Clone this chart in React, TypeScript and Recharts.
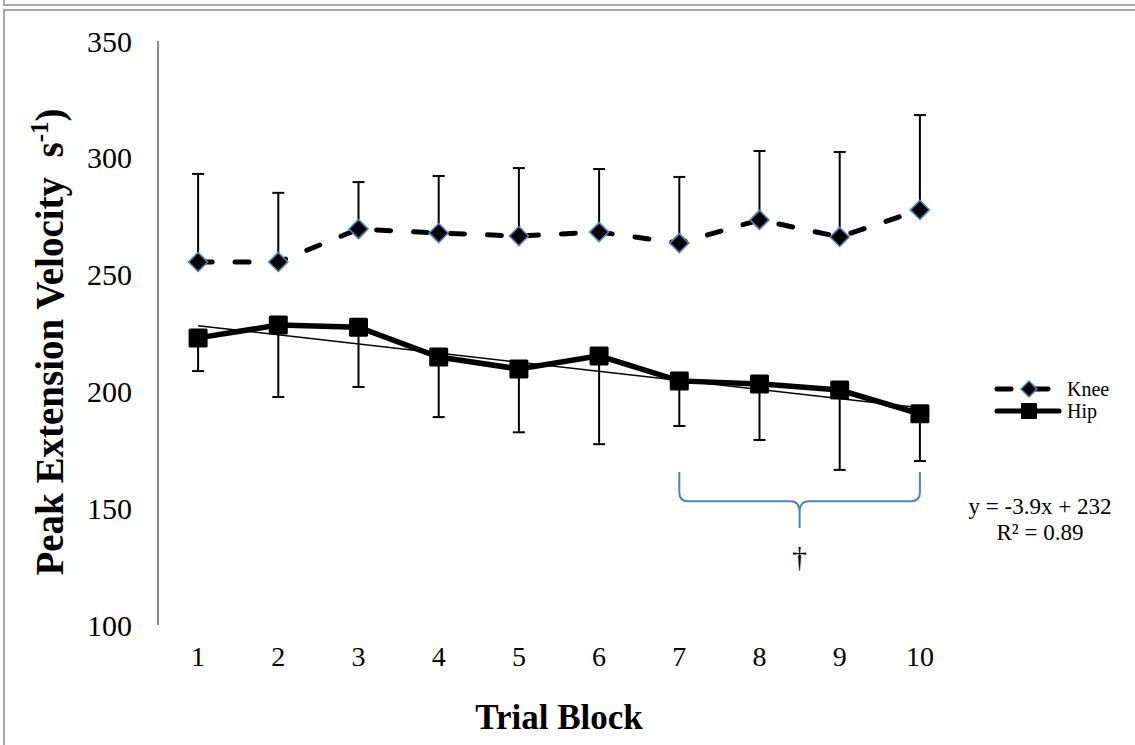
import React from "react";
import {
  LineChart,
  Line,
  XAxis,
  YAxis,
  ErrorBar,
  ReferenceArea,
} from "recharts";

const trialBlocks = [1, 2, 3, 4, 5, 6, 7, 8, 9, 10];
const kneeMean = [255.4, 255.4, 269.5, 267.8, 266.5, 268.2, 263.5, 273.4, 266.1, 277.7];
const kneeSD = [37.7, 29.6, 20.1, 24.4, 29.1, 27.0, 28.3, 29.5, 36.4, 40.6];
const hipMean = [222.9, 228.4, 227.5, 214.7, 209.6, 215.2, 204.5, 203.2, 200.6, 190.4];
const hipSD = [14.2, 30.8, 25.6, 25.7, 27.1, 37.8, 19.3, 24.0, 34.2, 20.2];
// regression line for Hip, only the end points are drawn
const hipTrend = [228.1, null, null, null, null, null, null, null, null, 193.0];
const yTicks = [100, 150, 200, 250, 300, 350];

const data = trialBlocks.map((b, i) => ({
  block: b,
  knee: kneeMean[i],
  kneeErr: [0, kneeSD[i]],
  hip: hipMean[i],
  hipErr: [hipSD[i], 0],
  trend: hipTrend[i],
}));

const FONT = '"Liberation Serif", "Times New Roman", serif';
const BLUE = "#4f81bd";

const Diamond = (props: any) => {
  const { cx, cy, index } = props;
  if (cx == null || cy == null) return <g key={`k-${index}`} />;
  const r = 9.5;
  return (
    <polygon
      key={`k-${index}`}
      points={`${cx},${cy - r} ${cx + r},${cy} ${cx},${cy + r} ${cx - r},${cy}`}
      fill="#000"
      stroke={BLUE}
      strokeWidth={1.6}
    />
  );
};

const Square = (props: any) => {
  const { cx, cy, index } = props;
  if (cx == null || cy == null) return <g key={`h-${index}`} />;
  const s = 19;
  return <rect key={`h-${index}`} x={cx - s / 2} y={cy - s / 2} width={s} height={s} rx={1.5} fill="#000" />;
};

// blue curly brace under blocks 7-10 with the dagger below it
const Brace = (props: any) => {
  const { x, y, width, height } = props;
  if (x == null) return <g />;
  const x0 = x;
  const x1 = x + width;
  const cx = (x0 + x1) / 2;
  const top = y;
  const mid = y + height * 0.52;
  const bot = y + height;
  const d = [
    `M${x0},${top} L${x0},${mid - 9} Q${x0},${mid} ${x0 + 9},${mid}`,
    `L${cx - 9},${mid} Q${cx},${mid} ${cx},${mid + 11} L${cx},${bot}`,
    `M${cx},${mid + 11} Q${cx},${mid} ${cx + 9},${mid}`,
    `L${x1 - 9},${mid} Q${x1},${mid} ${x1},${mid - 9} L${x1},${top}`,
  ].join(" ");
  return (
    <g>
      <path d={d} fill="none" stroke={BLUE} strokeWidth={2} />
      <text x={cx} y={bot + 39} textAnchor="middle" fontFamily={FONT} fontSize={30} fill="#000">
        †
      </text>
    </g>
  );
};

const YLabel = () => (
  <text
    x={0}
    y={0}
    transform="translate(63, 342) rotate(-90)"
    textAnchor="middle"
    fontFamily={FONT}
    fontWeight="bold"
    fontSize={39}
    fill="#000"
  >
    Peak Extension Velocity{"\u00a0\u00a0"}s
    <tspan dy={-15} fontSize={25}>-1</tspan>
    <tspan dy={15}>)</tspan>
  </text>
);

export default function App() {
  return (
    <div
      style={{
        position: "absolute",
        left: 0,
        top: 0,
        width: 1135,
        height: 745,
        background: "#fff",
        overflow: "hidden",
      }}
    >
      <div
        style={{
          position: "absolute",
          left: 3,
          top: -20,
          width: 1200,
          height: 22,
          border: "2px solid #a6a6a6",
        }}
      />
      <div
        style={{
          position: "absolute",
          left: 3,
          top: 9,
          width: 1200,
          height: 800,
          border: "2px solid #a6a6a6",
        }}
      />
      <div style={{ position: "absolute", left: 0, top: 0 }}>
        <LineChart
          width={1135}
          height={745}
          data={data}
          margin={{ top: 41, right: 175, bottom: 80, left: 98 }}
        >
          <XAxis
            type="number"
            dataKey="block"
            domain={[0.5, 10.5]}
            ticks={trialBlocks}
            axisLine={false}
            tickLine={false}
            tickSize={0}
            tickMargin={21}
            height={40}
            tick={{ fontFamily: FONT, fontSize: 28, fill: "#000" }}
            label={{
              value: "Trial Block",
              position: "insideBottom",
              offset: -64,
              fontFamily: FONT,
              fontWeight: "bold",
              fontSize: 35,
              fill: "#000",
            }}
          />
          <YAxis
            type="number"
            domain={[100, 350]}
            ticks={yTicks}
            width={60}
            axisLine={{ stroke: "#8c8c8c", strokeWidth: 2 }}
            tickLine={false}
            tickSize={0}
            tickMargin={26}
            tick={{ fontFamily: FONT, fontSize: 30, fill: "#000" }}
            label={{ content: () => <YLabel /> }}
          />
          <ReferenceArea x1={7} x2={10} y1={141.5} y2={165.5} shape={(p: any) => <Brace {...p} />} />
          <Line
            dataKey="trend"
            stroke="#000"
            strokeWidth={1.5}
            dot={false}
            connectNulls
            isAnimationActive={false}
            activeDot={false}
          />
          <Line
            dataKey="hip"
            stroke="#000"
            strokeWidth={5.5}
            dot={(p: any) => <Square key={`h-${p.index}`} {...p} />}
            isAnimationActive={false}
            activeDot={false}
          >
            <ErrorBar dataKey="hipErr" width={6} stroke="#000" strokeWidth={2} isAnimationActive={false} />
          </Line>
          <Line
            dataKey="knee"
            stroke="#000"
            strokeWidth={5}
            strokeDasharray="14 23"
            strokeLinecap="round"
            dot={(p: any) => <Diamond key={`k-${p.index}`} {...p} />}
            isAnimationActive={false}
            activeDot={false}
          >
            <ErrorBar dataKey="kneeErr" width={6} stroke="#000" strokeWidth={2} isAnimationActive={false} />
          </Line>
        </LineChart>
      </div>
      <div
        style={{
          position: "absolute",
          left: 993,
          top: 378,
          fontFamily: FONT,
          fontSize: 20,
          color: "#000",
          lineHeight: "22px",
        }}
      >
        <div style={{ display: "flex", alignItems: "center" }}>
          <svg width={70} height={22}>
            <line x1={4} y1={11} x2={66} y2={11} stroke="#000" strokeWidth={5} strokeDasharray="14 23" strokeLinecap="round" />
            <polygon points="36,3 44,11 36,19 28,11" fill="#000" stroke={BLUE} strokeWidth={1.5} />
          </svg>
          <span style={{ marginLeft: 4 }}>Knee</span>
        </div>
        <div style={{ display: "flex", alignItems: "center" }}>
          <svg width={70} height={22}>
            <line x1={4} y1={11} x2={66} y2={11} stroke="#000" strokeWidth={5} strokeLinecap="round" />
            <rect x={28} y={3} width={16} height={16} rx={1} fill="#000" />
          </svg>
          <span style={{ marginLeft: 4 }}>Hip</span>
        </div>
      </div>
      <div
        style={{
          position: "absolute",
          left: 940,
          top: 494,
          width: 200,
          textAlign: "center",
          fontFamily: FONT,
          fontSize: 23,
          lineHeight: "26px",
          color: "#000",
        }}
      >
        <div>y = -3.9x + 232</div>
        <div>R² = 0.89</div>
      </div>
    </div>
  );
}
